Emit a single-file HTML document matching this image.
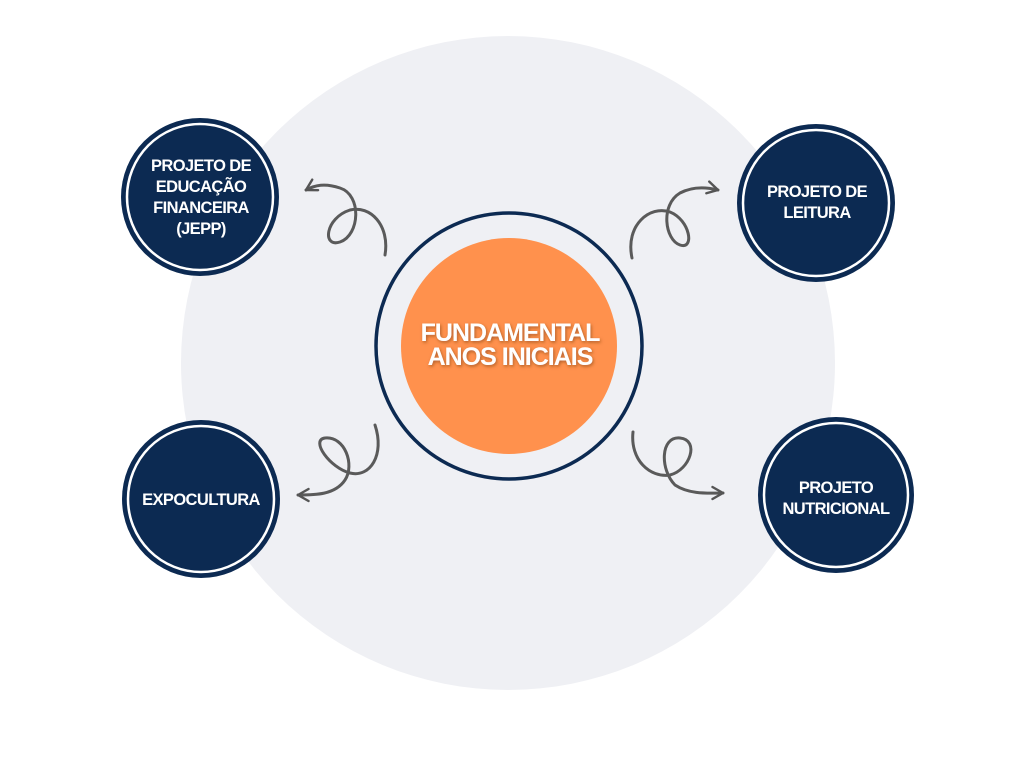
<!DOCTYPE html>
<html><head><meta charset="utf-8"><style>
html,body{margin:0;padding:0;background:#fff;}
svg{display:block;}
text{font-family:"Liberation Sans",sans-serif;font-weight:bold;fill:#fff;text-anchor:middle;}
</style></head><body>
<svg width="1024" height="768" viewBox="0 0 1024 768" xmlns="http://www.w3.org/2000/svg">
<defs>
<filter id="sh" x="-20%" y="-50%" width="140%" height="200%"><feDropShadow dx="1" dy="1.5" stdDeviation="1.5" flood-color="#7a3a10" flood-opacity="0.6"/></filter>
<marker id="ah" viewBox="0 0 10 10" refX="8" refY="5" markerWidth="5" markerHeight="5" orient="auto"><path d="M1,1 L8,5 L1,9" fill="none" stroke="#555" stroke-width="1.6" stroke-linecap="round" stroke-linejoin="round"/></marker>
</defs>
<circle cx="508" cy="363" r="327" fill="#eff0f4"/>
<circle cx="509" cy="346" r="133" fill="#eff0f4" stroke="#0c2a52" stroke-width="3.5"/>
<circle cx="509" cy="346" r="108" fill="#ff914d"/>
<g filter="url(#sh)">
<text x="510" y="341" font-size="25" letter-spacing="-1">FUNDAMENTAL</text>
<text x="510" y="365" font-size="25" letter-spacing="-1">ANOS INICIAIS</text>
</g>
<g fill="none" stroke="#5a5a5a" stroke-width="3" stroke-linecap="round">
<path d="M385,255 C390,225 370,205 350,210 C325,218 322,248 340,242 C360,235 362,195 340,188 C325,183 315,185 306,190" marker-end="url(#ah)"/>
<path d="M632,258 C625,225 650,205 670,212 C690,220 695,250 680,245 C665,240 660,205 680,193 C695,185 710,188 718,190" marker-end="url(#ah)"/>
<path d="M375,425 C385,455 370,478 350,473 C330,468 310,440 325,438 C345,436 355,465 345,480 C335,495 315,495 298,495" marker-end="url(#ah)"/>
<path d="M633,432 C630,460 650,478 670,475 C690,470 700,440 680,438 C660,436 660,470 675,485 C690,495 710,493 723,493" marker-end="url(#ah)"/>
</g>
<g fill="#0c2a52">
<circle cx="200" cy="197" r="79"/><circle cx="816" cy="203" r="79"/>
<circle cx="201" cy="499" r="79"/><circle cx="836" cy="495" r="78"/>
</g>
<g fill="none" stroke="#fff" stroke-width="2.5">
<circle cx="200" cy="197" r="73"/><circle cx="816" cy="203" r="73"/>
<circle cx="201" cy="499" r="73"/><circle cx="836" cy="495" r="72"/>
</g>
<g font-size="16.5" letter-spacing="-0.6">
<text x="201" y="171">PROJETO DE</text>
<text x="201" y="192">EDUCAÇÃO</text>
<text x="201" y="213">FINANCEIRA</text>
<text x="201" y="234">(JEPP)</text>
<text x="817" y="197">PROJETO DE</text>
<text x="817" y="218">LEITURA</text>
<text x="201" y="505">EXPOCULTURA</text>
<text x="836" y="493">PROJETO</text>
<text x="836" y="514">NUTRICIONAL</text>
</g>
</svg>
</body></html>
